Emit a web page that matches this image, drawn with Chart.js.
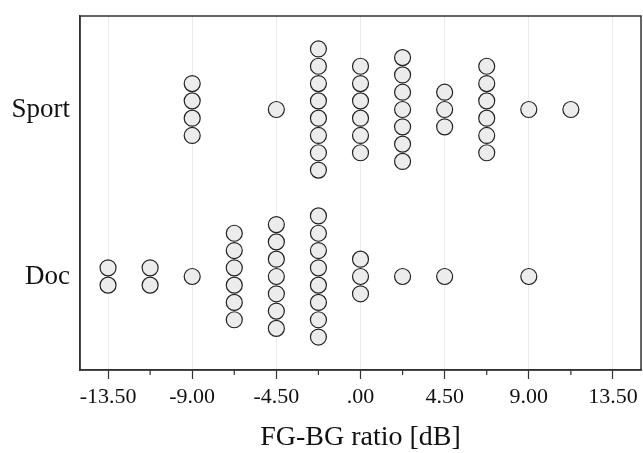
<!DOCTYPE html>
<html lang="en"><head>
<title>FG-BG ratio</title>
<meta charset="utf-8">
<style type="text/css">
body { margin:0; background:#ffffff; }
#chart1 { width:643px; height:453px; }
</style>
<script src="https://cdn.jsdelivr.net/npm/chart.js@4"></script>
<script>
// categories and dot columns (x value, number of dots in the stack)
categories=['Doc','Sport'];
sportX=[-9,-4.5,-2.25,0,2.25,4.5,6.75,9,11.25];
sportN=[4,1,8,6,7,3,6,1,1];
docX=[-13.5,-11.25,-9,-6.75,-4.5,-2.25,0,2.25,4.5,9];
docN=[2,2,1,6,7,8,3,1,1,1];
xMajor=[-13.5,-9,-4.5,0,4.5,9,13.5];
xMinor=[-11.25,-6.75,-2.25,2.25,6.75,11.25];
xTickLabels=['-13.50','-9.00','-4.50','.00','4.50','9.00','13.50'];
stackStep=0.1036;

function stack(xs,ns,cat) {
  pts=[];
  for (i=0;i<xs.length;i++) {
    for (k=0;k<ns[i];k++) { pts.push({x:xs[i],y:cat+(k-(ns[i]-1)/2)*stackStep}); } }
  return pts; }

frame={id:'frame',afterDraw(chart) {
  a=chart.chartArea; c=chart.ctx; sx=chart.scales.x;
  c.save(); c.strokeStyle='#333333'; c.lineWidth=1.5;
  c.strokeRect(a.left,a.top,a.right-a.left,a.bottom-a.top);
  c.lineWidth=1.2;
  for (i=0;i<xMinor.length;i++) { px=sx.getPixelForValue(xMinor[i]);
    c.beginPath(); c.moveTo(px,a.bottom); c.lineTo(px,a.bottom+5); c.stroke(); }
  c.restore(); }};

function initChart() {
  serif='"Liberation Serif",serif';
  config={type:'scatter',
    data:{datasets:[
      {label:'Sport',data:stack(sportX,sportN,1)},
      {label:'Doc',data:stack(docX,docN,0)}]},
    options:{responsive:false,animation:false,
      layout:{autoPadding:false,padding:{top:16,right:2,left:0,bottom:0}},
      elements:{point:{radius:8,hoverRadius:8,borderWidth:1.2,
        backgroundColor:'#ececec',borderColor:'#222222'}},
      plugins:{legend:{display:false},tooltip:{enabled:false}},
      scales:{
        x:{type:'linear',min:-15,max:15,
          afterBuildTicks:function(s){s.ticks=xMajor.map(function(v){return {value:v};});},
          afterFit:function(s){s.height=83; s.paddingLeft=0; s.paddingRight=0;},
          grid:{color:'#ebebeb',lineWidth:1,tickColor:'#333333',tickLength:9,tickWidth:1.2},
          border:{display:true,color:'#333333',width:1.5},
          ticks:{color:'#111111',padding:5,maxRotation:0,font:{family:serif,size:22},
            callback:function(v,i){return xTickLabels[i];}},
          title:{display:true,text:'FG-BG ratio [dB]',color:'#111111',
            font:{family:serif,size:28,lineHeight:1},padding:{top:0,bottom:1}}},
        y:{type:'linear',min:-0.56,max:1.56,
          afterBuildTicks:function(s){s.ticks=[{value:0},{value:1}];},
          afterFit:function(s){s.width=80; s.paddingTop=0; s.paddingBottom=0;},
          grid:{display:false,drawTicks:false},
          border:{display:true,color:'#333333',width:1.5},
          ticks:{color:'#111111',padding:10,font:{family:serif,size:27},
            callback:function(v){return categories[v];}}}}},
    plugins:[frame]};
  myChart=new Chart(document.getElementById('myChart'),config); }
</script></head>
<body onload="initChart();">
<div id="chart1">
  <canvas id="myChart" width="643" height="453"></canvas>
</div>
</body></html>
